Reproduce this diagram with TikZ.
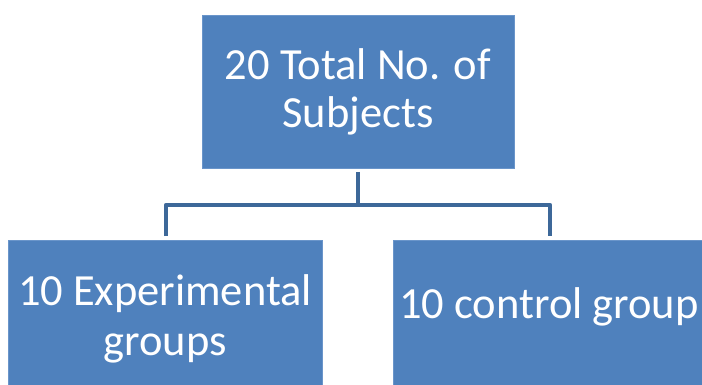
\documentclass[tikz,border=0pt]{standalone}
\usepackage{fontspec}
\setmainfont{Carlito}
\definecolor{boxblue}{HTML}{4F81BD}
\definecolor{boxedge}{HTML}{6A95CA}
\definecolor{linkblue}{HTML}{3D6899}
\begin{document}
\begin{tikzpicture}[x=1pt,y=-1pt,
  box/.style={fill=boxblue,draw=boxedge,line width=0.8pt},
  lbl/.style={text=white,align=center,anchor=base,inner sep=0pt},
  link/.style={draw=linkblue,line width=4.5pt}]
\useasboundingbox (0,0) rectangle (702,385);
\clip (0,0) rectangle (702,385);
\path[box] (202,15) rectangle (514,168);
\coordinate (topb) at (358,172);
\path[box] (8,240) rectangle (322,395);
\path[box] (393,240) rectangle (707,395);
\node[lbl,font=\fontsize{44.5}{48}\selectfont] (t) at (358,128) {20 Total No. of\\Subjects};
\node[lbl,font=\fontsize{44.5}{50}\selectfont] (l) at (165,355) {10 Experimental\\groups};
\node[lbl,font=\fontsize{44.5}{50}\selectfont] (r) at (549,318) {10 control group};
\coordinate (hub) at (358,205);
\coordinate (lt) at (166,205);
\coordinate (rt) at (550,205);
\coordinate (lb) at (166,236);
\coordinate (rb) at (550,236);
\draw[link] (topb) -- (hub);
\draw[link,line join=round] (lb) -- (lt) -- (rt) -- (rb);
\end{tikzpicture}
\end{document}
